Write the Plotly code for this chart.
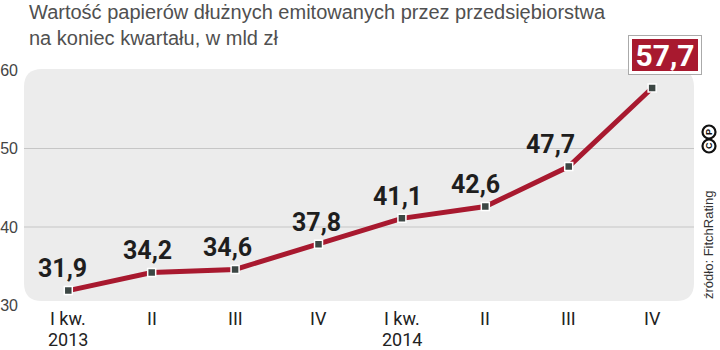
import plotly.graph_objects as go

# ---- data ----
quarters = ["I kw.", "II", "III", "IV", "I kw.", "II", "III", "IV"]
years = ["2013", "", "", "", "2014", "", "", ""]
values = [31.9, 34.2, 34.6, 37.8, 41.1, 42.6, 47.7, 57.7]
ytick_vals = [30, 40, 50, 60]
grid_vals = [40, 50]
title_text = "Wartość papierów dłużnych emitowanych przez przedsiębiorstwa<br>na koniec kwartału, w mld zł"
source_text = "źródło: FitchRating"

W, H = 720, 350
ML, MR, MT, MB = 24, 25, 69, 42
PW, PH = W - ML - MR, H - MT - MB

RED = "#a8192f"
COND = "Roboto, Liberation Sans, sans-serif"
SANS = "Liberation Sans, Arial, sans-serif"

def fmt(v):
    return f"{v:.1f}".replace(".", ",")

x_idx = list(range(len(values)))

fig = go.Figure()
fig.add_trace(go.Scatter(
    x=x_idx, y=values, mode="lines+markers",
    line=dict(color=RED, width=5),
    marker=dict(symbol="square", size=8, color="#3c4744",
                line=dict(color="white", width=1.5)),
    hoverinfo="skip", showlegend=False,
))

def px2paper_x(px):
    return (px - ML) / PW

def py2paper_y(py):
    return (MT + PH - py) / PH

x0, x1 = px2paper_x(24), px2paper_x(694)
y0, y1 = py2paper_y(301), py2paper_y(69)
rx, ry = 18 / PW, 18 / PH
path = (f"M {x0+rx},{y1} L {x1-rx},{y1} Q {x1},{y1} {x1},{y1-ry} "
        f"L {x1},{y0+ry} Q {x1},{y0} {x1-rx},{y0} L {x0+rx},{y0} "
        f"Q {x0},{y0} {x0},{y0+ry} L {x0},{y1-ry} Q {x0},{y1} {x0+rx},{y1} Z")
shapes = [dict(type="path", path=path, xref="paper", yref="paper",
               fillcolor="#ececec", line=dict(width=0), layer="below")]
for g in grid_vals:
    shapes.append(dict(type="line", xref="paper", yref="y", x0=x0, x1=x1, y0=g, y1=g,
                       line=dict(color="#c6c6c6", width=1), layer="below"))

annotations = []
label_dx = [-6, -4, -8, -2, -4, -10, -18]
for i, v in enumerate(values[:-1]):
    annotations.append(dict(x=i, y=v, xref="x", yref="y", text=fmt(v), showarrow=False,
                            xshift=label_dx[i], yshift=22,
                            font=dict(family=COND, size=25, color="#1e1e1e", weight="bold")))
last = len(values) - 1
annotations.append(dict(x=last, y=values[last], xref="x", yref="y", text="",
                        showarrow=False, xshift=13, yshift=33, width=72, height=38,
                        bgcolor="white", bordercolor="#aaaaaa", borderwidth=1, borderpad=0))
annotations.append(dict(x=last, y=values[last], xref="x", yref="y", text=fmt(values[last]),
                        showarrow=False, xshift=13, yshift=33, width=66, height=32,
                        bgcolor=RED, borderwidth=0, borderpad=0,
                        font=dict(family=COND, size=30, color="white", weight="bold")))
for i, (q, yr) in enumerate(zip(quarters, years)):
    annotations.append(dict(x=i, y=py2paper_y(318), xref="x", yref="paper", text=q,
                            showarrow=False, yanchor="middle", xanchor="center",
                            font=dict(family=COND, size=18, color="#222222")))
    if yr:
        annotations.append(dict(x=i, y=py2paper_y(339), xref="x", yref="paper", text=yr,
                                showarrow=False, yanchor="middle", xanchor="center",
                                font=dict(family=COND, size=18, color="#222222")))
annotations.append(dict(x=px2paper_x(28), y=py2paper_y(0), xref="paper", yref="paper",
                        xanchor="left", yanchor="top", align="left", text=title_text,
                        showarrow=False, borderpad=0,
                        font=dict(family=SANS, size=20, color="#505050")))
annotations.append(dict(x=px2paper_x(709), y=py2paper_y(245), xref="paper", yref="paper",
                        xanchor="center", yanchor="middle",
                        text=source_text, textangle=-90, showarrow=False,
                        font=dict(family=SANS, size=13, color="#333333")))
for letter, cy in (("C", 146), ("P", 132)):
    shapes.append(dict(type="circle", xref="paper", yref="paper",
                       xsizemode="pixel", ysizemode="pixel",
                       xanchor=px2paper_x(709), yanchor=py2paper_y(cy),
                       x0=-6.5, x1=6.5, y0=-6.5, y1=6.5,
                       line=dict(color="#111111", width=2.2), fillcolor="white"))
    annotations.append(dict(x=px2paper_x(709), y=py2paper_y(cy), xref="paper", yref="paper",
                            xanchor="center", yanchor="middle", borderpad=0,
                            text=letter, textangle=-90, showarrow=False,
                            font=dict(family=SANS, size=9, color="#111111", weight="bold")))

fig.update_layout(
    width=W, height=H,
    margin=dict(l=ML, r=MR, t=MT, b=MB, pad=0, autoexpand=False),
    paper_bgcolor="white", plot_bgcolor="white",
    xaxis=dict(range=[-0.531, 7.514], showticklabels=False, showgrid=False,
               zeroline=False, showline=False, fixedrange=True, automargin=False),
    yaxis=dict(range=[29.682, 60.127], tickvals=ytick_vals, showgrid=False,
               zeroline=False, showline=False, ticks="", ticklabelstandoff=5,
               automargin=False,
               tickfont=dict(family=SANS, size=16, color="#444444"), fixedrange=True),
    shapes=shapes, annotations=annotations,
)

fig.write_html("out.html")
